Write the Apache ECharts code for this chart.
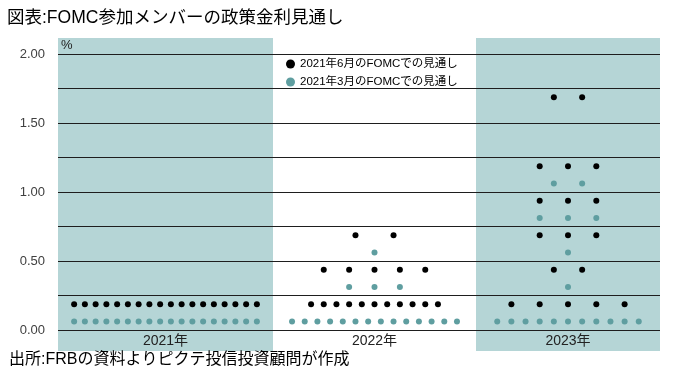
<!DOCTYPE html>
<html>
<head>
<meta charset="utf-8">
<script src="https://cdn.jsdelivr.net/npm/echarts@6/dist/echarts.min.js"></script>
<style>
  html, body { margin: 0; padding: 0; background: #fff; }
  #main { width: 680px; height: 376px; }
</style>
</head>
<body>
<div id="main"></div>
<script>
// データ
const years = ['2021年', '2022年', '2023年'];
const rateLevels = [0.125, 0.375, 0.625, 0.875, 1.125, 1.375, 1.625];
// 各水準の参加者数(年ごと)
const juneCounts = [
  [18, 0, 0, 0, 0, 0, 0],
  [11, 5, 2, 0, 0, 0, 0],
  [5, 2, 3, 3, 3, 0, 2]
];
const marchCounts = [
  [18, 0, 0, 0, 0, 0, 0],
  [14, 3, 1, 0, 0, 0, 0],
  [11, 1, 1, 3, 2, 0, 0]
];
const yTicks = [0, 0.5, 1, 1.5, 2];
const seriesNames = ['2021年6月のFOMCでの見通し', '2021年3月のFOMCでの見通し'];

// レイアウト
const juneSteps = [[1, 1, 1, 1, 1, 1, 1], [1, 2, 3, 1, 1, 1, 1], [2, 2, 2, 2, 2, 2, 2]];
const marchSteps = [[1, 1, 1, 1, 1, 1, 1], [1, 2, 2, 1, 1, 1, 1], [1, 2, 2, 2, 2, 2, 2]];
const bands = [[58, 215], [273, 203], [476, 184]];
const shift = 0.0625;
const shade = '#b5d5d6';
const teal = '#5f9ea0';
const font = "'Liberation Sans', 'Noto Sans CJK JP', sans-serif";

function points(counts, steps, dy) {
  const out = [];
  counts.forEach(function (k, i) {
    for (let j = 0; j < k; j++) {
      out.push([(j - (k - 1) / 2) * steps[i], rateLevels[i] + dy]);
    }
  });
  return out;
}

const chart = echarts.init(document.getElementById('main'));

const grid = [
  { left: bands[0][0], width: bands[0][1], top: 38, height: 313, show: true, borderWidth: 0, backgroundColor: shade },
  { left: bands[2][0], width: bands[2][1], top: 38, height: 313, show: true, borderWidth: 0, backgroundColor: shade }
];
const xAxis = [
  { gridIndex: 0, type: 'value', show: false, min: 0, max: 1 },
  { gridIndex: 1, type: 'value', show: false, min: 0, max: 1 }
];
const yAxis = [
  { gridIndex: 0, type: 'value', show: false, min: 0, max: 1 },
  { gridIndex: 1, type: 'value', show: false, min: 0, max: 1 }
];
const series = [];

years.forEach(function (y, i) {
  const half = (Math.max.apply(null, juneCounts[i].concat(marchCounts[i])) + 2) / 2;
  grid.push({ left: bands[i][0], width: bands[i][1], top: 54, height: 276 });
  xAxis.push({
    gridIndex: i + 2, type: 'value', min: -half, max: half,
    axisLine: { show: false }, axisTick: { show: false }, axisLabel: { show: false }, splitLine: { show: false },
    name: y, nameLocation: 'middle', nameGap: 4,
    nameTextStyle: { fontSize: 14, color: '#222', fontFamily: font, verticalAlign: 'top' }
  });
  yAxis.push({
    gridIndex: i + 2, type: 'value', min: 0, max: 2, interval: 0.25,
    axisLine: { show: false }, axisTick: { show: false },
    axisLabel: {
      show: i === 0, margin: 13, fontSize: 13, color: '#404040', fontFamily: font,
      formatter: function (v) { return yTicks.indexOf(v) >= 0 ? v.toFixed(2) : ''; }
    },
    splitLine: { lineStyle: { color: '#1e1e1e', width: 1 } }
  });
  series.push({
    name: seriesNames[0], type: 'scatter', xAxisIndex: i + 2, yAxisIndex: i + 2,
    symbolSize: 6, itemStyle: { color: '#000', opacity: 1 }, silent: true,
    data: points(juneCounts[i], juneSteps[i], shift)
  });
  series.push({
    name: seriesNames[1], type: 'scatter', xAxisIndex: i + 2, yAxisIndex: i + 2,
    symbolSize: 6, itemStyle: { color: teal, opacity: 1 }, silent: true,
    data: points(marchCounts[i], marchSteps[i], -shift)
  });
});

chart.setOption({
  animation: false,
  title: [
    { text: '図表:FOMC参加メンバーの政策金利見通し', left: 7, top: 9, padding: 0,
      textStyle: { fontSize: 17.5, fontWeight: 'normal', color: '#000', fontFamily: font } },
    { text: '出所:FRBの資料よりピクテ投信投資顧問が作成', left: 9, bottom: 8, padding: 0,
      textStyle: { fontSize: 16, fontWeight: 'normal', color: '#000', fontFamily: font } },
    { text: '%', left: 61, top: 39, padding: 0,
      textStyle: { fontSize: 13, fontWeight: 'normal', color: '#222', fontFamily: font } }
  ],
  legend: {
    data: seriesNames, orient: 'vertical', left: 281, top: 52,
    icon: 'circle', itemWidth: 9, itemHeight: 9, itemGap: 4, itemTextGap: 5,
    textStyle: { fontSize: 11.5, lineHeight: 14, color: '#000', fontFamily: font }
  },
  grid: grid,
  xAxis: xAxis,
  yAxis: yAxis,
  series: series
});
</script>
</body>
</html>
